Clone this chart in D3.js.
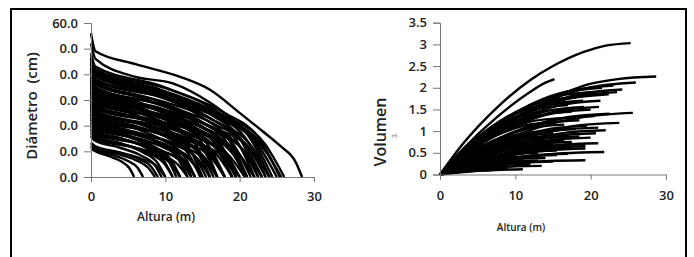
<!DOCTYPE html>
<html lang="es">
<head>
<meta charset="UTF-8">
<title>Diámetro y volumen vs altura</title>
<script src="https://d3js.org/d3.v7.min.js"></script>
<style>
    body { margin: 0; background: #fff; }
    svg { display: block; font-family: 'Open Sans', 'DejaVu Sans', sans-serif; }
    .axis path, .axis line { stroke: #777; }
    .axis text { fill: #222; font-size: 13px; font-weight: 600; font-family: 'Open Sans', sans-serif; }
    .title { fill: #222; font-weight: 600; }
    .curve { fill: none; stroke: #000; stroke-width: 2.4; }
</style>
</head>
<body>
<svg width="694" height="257"></svg>
<script>
// tick values and labels (as printed in the figure)
const heightTicks = [0, 10, 20, 30];
const diamTicks = [0, 10, 20, 30, 40, 50, 60];
const diamTickLabels = ["0.0", "0.0", "0.0", "0.0", "0.0", "0.0", "60.0"];
const volTicks = [0, 0.5, 1, 1.5, 2, 2.5, 3, 3.5];
const volTickLabels = ["0", "0.5", "1", "1.5", "2", "2.5", "3", "3.5"];

// taper curves: [altura (m), diámetro (cm)]
const diamCurves = [
    [[0,56],[0.6,49],[6,44],[12,39],[16,34],[20,25],[23,18],[25.5,12],[27.5,6],[28.4,0]],
    [[0,52],[0.6,46],[6,39],[11,36.5],[16,29],[20,20],[23.5,10],[25.6,0]],
    [[0,48.2],[0.6,43],[9.6,35.3],[16.8,25.8],[21.6,14.2],[24,0]],
    [[0,47],[0.6,42],[10.2,34.4],[17.8,25.2],[22.9,13.9],[25.4,0]],
    [[0,46],[0.6,41],[9.8,33.6],[17.1,24.6],[22,13.5],[24.4,0]],
    [[0,46.5],[0.6,41.5],[9,34],[15.8,24.9],[20.3,13.7],[22.5,0]],
    [[0,45.4],[0.6,40.5],[9.4,33.2],[16.5,24.3],[21.2,13.4],[23.5,0]],
    [[0,44.8],[0.6,40],[8.8,32.8],[15.4,24],[19.8,13.2],[22,0]],
    [[0,44.2],[0.6,39.5],[8.4,32.4],[14.7,23.7],[18.9,13],[21,0]],
    [[0,43.7],[0.6,39],[10.4,32],[18.2,23.4],[23.4,12.9],[26,0]],
    [[0,42.6],[0.6,38],[9.2,31.2],[16.1,22.8],[20.7,12.5],[23,0]],
    [[0,42.6],[0.6,38],[10.2,31.2],[17.9,22.8],[23,12.5],[25.5,0]],
    [[0,42],[0.6,37.5],[10,30.8],[17.5,22.5],[22.5,12.4],[25,0]],
    [[0,41.4],[0.6,37],[8.3,30.3],[14.5,22.2],[18.6,12.2],[20.7,0]],
    [[0,40.9],[0.6,36.5],[7.8,29.9],[13.7,21.9],[17.6,12],[19.5,0]],
    [[0,40.3],[0.6,36],[9.6,29.5],[16.8,21.6],[21.6,11.9],[24,0]],
    [[0,39.2],[0.6,35],[8.6,28.7],[15.1,21],[19.4,11.6],[21.5,0]],
    [[0,39.2],[0.6,35],[6.8,28.7],[11.9,21],[15.3,11.6],[17,0]],
    [[0,38.6],[0.6,34.5],[9.4,28.3],[16.5,20.7],[21.2,11.4],[23.5,0]],
    [[0,38],[0.6,34],[7.6,27.9],[13.3,20.4],[17.1,11.2],[19,0]],
    [[0,37.5],[0.6,33.5],[6.4,27.5],[11.2,20.1],[14.4,11.1],[16,0]],
    [[0,37],[0.6,33],[9,27.1],[15.8,19.8],[20.3,10.9],[22.5,0]],
    [[0,37],[0.6,33],[7.8,27.1],[13.7,19.8],[17.6,10.9],[19.5,0]],
    [[0,36.4],[0.6,32.5],[8.4,26.7],[14.7,19.5],[18.9,10.7],[21,0]],
    [[0,35.8],[0.6,32],[7.2,26.2],[12.6,19.2],[16.2,10.6],[18,0]],
    [[0,35.3],[0.6,31.5],[9.6,25.8],[16.8,18.9],[21.6,10.4],[24,0]],
    [[0,34.7],[0.6,31],[8,25.4],[14,18.6],[18,10.2],[20,0]],
    [[0,34.2],[0.6,30.5],[7.6,25],[13.3,18.3],[17.1,10.1],[19,0]],
    [[0,33.6],[0.6,30],[6.8,24.6],[11.9,18],[15.3,9.9],[17,0]],
    [[0,33.6],[0.6,30],[9.2,24.6],[16.1,18],[20.7,9.9],[23,0]],
    [[0,33],[0.6,29.5],[6,24.2],[10.5,17.7],[13.5,9.7],[15,0]],
    [[0,32.5],[0.6,29],[8.4,23.8],[14.7,17.4],[18.9,9.6],[21,0]],
    [[0,31.9],[0.6,28.5],[8.8,23.4],[15.4,17.1],[19.8,9.4],[22,0]],
    [[0,31.4],[0.6,28],[6.4,23],[11.2,16.8],[14.4,9.2],[16,0]],
    [[0,30.8],[0.6,27.5],[7.2,22.6],[12.6,16.5],[16.2,9.1],[18,0]],
    [[0,30.2],[0.6,27],[7.8,22.1],[13.7,16.2],[17.6,8.9],[19.5,0]],
    [[0,30.2],[0.6,27],[8.8,22.1],[15.4,16.2],[19.8,8.9],[22,0]],
    [[0,29.7],[0.6,26.5],[8,21.7],[14,15.9],[18,8.7],[20,0]],
    [[0,29.1],[0.6,26],[5.9,21.3],[10.3,15.6],[13.2,8.6],[14.7,0]],
    [[0,28.6],[0.6,25.5],[6.6,20.9],[11.6,15.3],[14.9,8.4],[16.5,0]],
    [[0,28],[0.6,25],[7.2,20.5],[12.6,15],[16.2,8.3],[18,0]],
    [[0,28],[0.6,25],[8.3,20.5],[14.5,15],[18.6,8.3],[20.7,0]],
    [[0,27.4],[0.6,24.5],[7.6,20.1],[13.3,14.7],[17.1,8.1],[19,0]],
    [[0,26.9],[0.6,24],[6.2,19.7],[10.9,14.4],[14,7.9],[15.5,0]],
    [[0,26.3],[0.6,23.5],[5.6,19.3],[9.8,14.1],[12.6,7.8],[14,0]],
    [[0,25.8],[0.6,23],[6.8,18.9],[11.9,13.8],[15.3,7.6],[17,0]],
    [[0,25.2],[0.6,22.5],[7.2,18.5],[12.6,13.5],[16.2,7.4],[18,0]],
    [[0,24.6],[0.6,22],[5.2,18],[9.1,13.2],[11.7,7.3],[13,0]],
    [[0,24.6],[0.6,22],[8,18],[14,13.2],[18,7.3],[20,0]],
    [[0,24.1],[0.6,21.5],[5.4,17.6],[9.5,12.9],[12.2,7.1],[13.5,0]],
    [[0,23.5],[0.6,21],[6.4,17.2],[11.2,12.6],[14.4,6.9],[16,0]],
    [[0,23],[0.6,20.5],[6.8,16.8],[11.9,12.3],[15.3,6.8],[17,0]],
    [[0,22.4],[0.6,20],[4.8,16.4],[8.4,12],[10.8,6.6],[12,0]],
    [[0,22.4],[0.6,20],[6,16.4],[10.5,12],[13.5,6.6],[15,0]],
    [[0,21.8],[0.6,19.5],[4.6,16],[8.1,11.7],[10.4,6.4],[11.5,0]],
    [[0,21.3],[0.6,19],[5.6,15.6],[9.8,11.4],[12.6,6.3],[14,0]],
    [[0,20.7],[0.6,18.5],[6,15.2],[10.5,11.1],[13.5,6.1],[15,0]],
    [[0,20.2],[0.6,18],[4.4,14.8],[7.7,10.8],[9.9,5.9],[11,0]],
    [[0,19.6],[0.6,17.5],[4.8,14.4],[8.4,10.5],[10.8,5.8],[12,0]],
    [[0,19],[0.6,17],[5.4,13.9],[9.5,10.2],[12.2,5.6],[13.5,0]],
    [[0,18.5],[0.6,16.5],[5.6,13.5],[9.8,9.9],[12.6,5.4],[14,0]],
    [[0,17.9],[0.6,16],[4,13.1],[7,9.6],[9,5.3],[10,0]],
    [[0,17.4],[0.6,15.5],[4.4,12.7],[7.7,9.3],[9.9,5.1],[11,0]],
    [[0,16.8],[0.6,15],[4.8,12.3],[8.4,9],[10.8,5],[12,0]],
    [[0,16.2],[0.6,14.5],[5.2,11.9],[9.1,8.7],[11.7,4.8],[13,0]],
    [[0,15.7],[0.6,14],[3.8,11.5],[6.7,8.4],[8.6,4.6],[9.5,0]],
    [[0,13.4],[0.6,12],[3.6,9.8],[6.3,7.2],[8.1,4],[9,0]],
    [[0,12.9],[0.6,11.5],[4,9.4],[7,6.9],[9,3.8],[10,0]],
    [[0,12.3],[0.6,11],[3.4,9],[6,6.6],[7.7,3.6],[8.6,0]],
    [[0,11.8],[0.6,10.5],[2.8,8.6],[4.9,6.3],[6.3,3.5],[7,0]],
    [[0,11.2],[0.6,10],[2.3,8.2],[4.1,6],[5.2,3.3],[5.8,0]]
];

// cumulative volume curves: [altura (m), volumen (m3)]
const volCurves = [
    [[0,0],[3.1,0.72],[7.6,1.55],[12,2.18],[15,2.5],[19,2.82],[22,2.97],[25.3,3.03]],
    [[0,0],[3.1,0.6],[7.6,1.33],[12,1.91],[14,2.12],[15.2,2.2]],
    [[0,0],[3.1,0.41],[7.6,0.95],[12,1.41],[16,1.83],[19.1,2.05],[23.6,2.2],[28.7,2.26]],
    [[0,0],[6.5,0.93],[13,1.59],[19.5,1.99],[26,2.12]],
    [[0,0],[5.75,0.9],[11.5,1.54],[17.25,1.93],[23,2.05]],
    [[0,0],[5.4,0.88],[10.75,1.5],[16.1,1.88],[21.5,2.0]],
    [[0,0],[6.05,0.86],[12.1,1.47],[18.15,1.84],[24.2,1.96]],
    [[0,0],[5.9,0.84],[11.75,1.43],[17.6,1.79],[23.5,1.9]],
    [[0,0],[5,0.84],[10,1.43],[15,1.79],[20,1.9]],
    [[0,0],[5.6,0.81],[11.2,1.39],[16.8,1.74],[22.4,1.85]],
    [[0,0],[4.5,0.78],[9,1.34],[13.5,1.67],[18,1.78]],
    [[0,0],[5.3,0.75],[10.65,1.28],[16,1.6],[21.3,1.7]],
    [[0,0],[4.75,0.75],[9.5,1.28],[14.25,1.6],[19,1.7]],
    [[0,0],[4.1,0.73],[8.25,1.24],[12.4,1.55],[16.5,1.65]],
    [[0,0],[4.25,0.7],[8.5,1.2],[12.75,1.5],[17,1.6]],
    [[0,0],[5.3,0.69],[10.55,1.17],[15.8,1.47],[21.1,1.56]],
    [[0,0],[4.8,0.69],[9.55,1.17],[14.3,1.47],[19.1,1.56]],
    [[0,0],[5,0.66],[10,1.13],[15,1.41],[20,1.5]],
    [[0,0],[4.4,0.64],[8.75,1.09],[13.1,1.36],[17.5,1.45]],
    [[0,0],[6.4,0.62],[12.8,1.07],[19.2,1.33],[25.6,1.42]],
    [[0,0],[5.6,0.62],[11.25,1.05],[16.9,1.32],[22.5,1.4]],
    [[0,0],[5.1,0.59],[10.25,1.01],[15.4,1.27],[20.5,1.35]],
    [[0,0],[4,0.57],[8,0.98],[12,1.22],[16,1.3]],
    [[0,0],[4.6,0.55],[9.25,0.94],[13.9,1.18],[18.5,1.25]],
    [[0,0],[3.75,0.53],[7.5,0.9],[11.25,1.13],[15,1.2]],
    [[0,0],[5.95,0.52],[11.9,0.89],[17.85,1.12],[23.8,1.19]],
    [[0,0],[4.1,0.51],[8.25,0.86],[12.4,1.08],[16.5,1.15]],
    [[0,0],[4.9,0.49],[9.75,0.84],[14.6,1.05],[19.5,1.12]],
    [[0,0],[5.25,0.48],[10.5,0.81],[15.75,1.02],[21,1.08]],
    [[0,0],[4.5,0.46],[9,0.79],[13.5,0.99],[18,1.05]],
    [[0,0],[5.5,0.45],[11,0.77],[16.5,0.96],[22,1.02]],
    [[0,0],[3.6,0.44],[7.25,0.75],[10.9,0.94],[14.5,1]],
    [[0,0],[5.2,0.42],[10.35,0.71],[15.5,0.89],[20.7,0.95]],
    [[0,0],[3.75,0.42],[7.5,0.71],[11.25,0.89],[15,0.95]],
    [[0,0],[4,0.4],[8,0.68],[12,0.85],[16,0.9]],
    [[0,0],[4.6,0.39],[9.25,0.66],[13.9,0.83],[18.5,0.88]],
    [[0,0],[5,0.37],[10,0.64],[15,0.8],[20,0.85]],
    [[0,0],[3.5,0.35],[7,0.6],[10.5,0.75],[14,0.8]],
    [[0,0],[4.1,0.34],[8.25,0.59],[12.4,0.73],[16.5,0.78]],
    [[0,0],[4.4,0.33],[8.75,0.56],[13.1,0.71],[17.5,0.75]],
    [[0,0],[5.25,0.32],[10.5,0.54],[15.75,0.68],[21,0.72]],
    [[0,0],[4.8,0.31],[9.65,0.53],[14.5,0.66],[19.3,0.7]],
    [[0,0],[3.75,0.3],[7.5,0.51],[11.25,0.64],[15,0.68]],
    [[0,0],[4.8,0.29],[9.65,0.49],[14.5,0.61],[19.3,0.65]],
    [[0,0],[4.25,0.27],[8.5,0.47],[12.75,0.58],[17,0.62]],
    [[0,0],[3,0.26],[6,0.45],[9,0.56],[12,0.6]],
    [[0,0],[4.8,0.26],[9.65,0.45],[14.5,0.56],[19.3,0.6]],
    [[0,0],[3.4,0.24],[6.75,0.41],[10.1,0.52],[13.5,0.55]],
    [[0,0],[3.9,0.24],[7.75,0.41],[11.6,0.52],[15.5,0.55]],
    [[0,0],[5.45,0.23],[10.9,0.39],[16.35,0.49],[21.8,0.52]],
    [[0,0],[3.25,0.22],[6.5,0.38],[9.75,0.47],[13,0.5]],
    [[0,0],[4.25,0.21],[8.5,0.36],[12.75,0.45],[17,0.48]],
    [[0,0],[3.9,0.2],[7.75,0.34],[11.6,0.42],[15.5,0.45]],
    [[0,0],[2.5,0.18],[5,0.32],[7.5,0.39],[10,0.42]],
    [[0,0],[3,0.18],[6,0.3],[9,0.38],[12,0.4]],
    [[0,0],[3.5,0.17],[7,0.29],[10.5,0.36],[14,0.38]],
    [[0,0],[4.8,0.15],[9.65,0.25],[14.5,0.31],[19.3,0.33]],
    [[0,0],[2.75,0.15],[5.5,0.26],[8.25,0.33],[11,0.35]],
    [[0,0],[3.25,0.14],[6.5,0.24],[9.75,0.3],[13,0.32]],
    [[0,0],[3.75,0.13],[7.5,0.23],[11.25,0.28],[15,0.3]],
    [[0,0],[2,0.12],[4,0.21],[6,0.26],[8,0.28]],
    [[0,0],[2.5,0.11],[5,0.19],[7.5,0.24],[10,0.25]],
    [[0,0],[3,0.11],[6,0.18],[9,0.23],[12,0.24]],
    [[0,0],[3.4,0.09],[6.75,0.15],[10.1,0.19],[13.5,0.2]],
    [[0,0],[1.5,0.08],[3,0.14],[4.5,0.17],[6,0.18]],
    [[0,0],[2.25,0.06],[4.5,0.11],[6.75,0.13],[9,0.14]],
    [[0,0],[2.75,0.05],[5.5,0.09],[8.25,0.11],[11,0.12]],
    [[0,0],[1.75,0.04],[3.5,0.08],[5.25,0.09],[7,0.1]]
];

const svg = d3.select("svg");

// outer frame
svg.append("rect")
    .attr("x", 11).attr("y", 9)
    .attr("width", 675).attr("height", 270)
    .attr("fill", "none")
    .attr("stroke", "#000")
    .attr("stroke-width", 2);

// ---- left panel: diámetro ----
const x1 = d3.scaleLinear().domain([0, 30]).range([91, 314]);
const y1 = d3.scaleLinear().domain([0, 60]).range([177, 23]);

const line1 = d3.line()
    .x(d => x1(d[0]))
    .y(d => y1(d[1]))
    .curve(d3.curveMonotoneX);

svg.append("g").selectAll("path")
    .data(diamCurves)
    .join("path")
    .attr("class", "curve")
    .attr("d", line1);

svg.append("g")
    .attr("class", "axis")
    .attr("transform", `translate(0,${y1(0)})`)
    .call(d3.axisBottom(x1).tickValues(heightTicks).tickFormat(d3.format("d")).tickSizeOuter(0).tickSize(5).tickPadding(10));

svg.append("g")
    .attr("class", "axis")
    .attr("transform", `translate(${x1(0)},0)`)
    .call(d3.axisLeft(y1).tickValues(diamTicks)
        .tickFormat((d, i) => diamTickLabels[i])
        .tickSizeOuter(0).tickSize(7).tickPadding(6));

svg.append("text")
    .attr("class", "title")
    .attr("x", 166).attr("y", 221)
    .attr("text-anchor", "middle")
    .style("font-size", "12px")
    .text("Altura (m)");

svg.append("text")
    .attr("class", "title")
    .attr("transform", "translate(37,106) rotate(-90)")
    .attr("text-anchor", "middle")
    .style("font-size", "15px")
    .attr("xml:space", "preserve")
    .text("Diámetro  (cm)");

// ---- right panel: volumen ----
const x2 = d3.scaleLinear().domain([0, 30]).range([440, 666]);
const y2 = d3.scaleLinear().domain([0, 3.5]).range([174.5, 22.7]);

const line2 = d3.line()
    .x(d => x2(d[0]))
    .y(d => y2(d[1]))
    .curve(d3.curveMonotoneX);

svg.append("g").selectAll("path")
    .data(volCurves)
    .join("path")
    .attr("class", "curve")
    .attr("d", line2);

svg.append("g")
    .attr("class", "axis")
    .attr("transform", `translate(0,${y2(0)})`)
    .call(d3.axisBottom(x2).tickValues(heightTicks).tickFormat(d3.format("d")).tickSizeOuter(0).tickSize(5).tickPadding(11));

svg.append("g")
    .attr("class", "axis")
    .attr("transform", `translate(${x2(0)},0)`)
    .call(d3.axisLeft(y2).tickValues(volTicks)
        .tickFormat((d, i) => volTickLabels[i])
        .tickSizeOuter(0).tickSize(7).tickPadding(6));

svg.append("text")
    .attr("class", "title")
    .attr("x", 521).attr("y", 231)
    .attr("text-anchor", "middle")
    .style("font-size", "10px")
    .text("Altura (m)");

svg.append("text")
    .attr("class", "title")
    .attr("transform", "translate(386,132) rotate(-90)")
    .attr("text-anchor", "middle")
    .style("font-size", "16px")
    .text("Volumen");

svg.append("text")
    .attr("class", "title")
    .attr("transform", "translate(397,136) rotate(-90)")
    .attr("text-anchor", "middle")
    .style("font-size", "7px")
    .style("fill", "#888")
    .text("3");
</script>
</body>
</html>
